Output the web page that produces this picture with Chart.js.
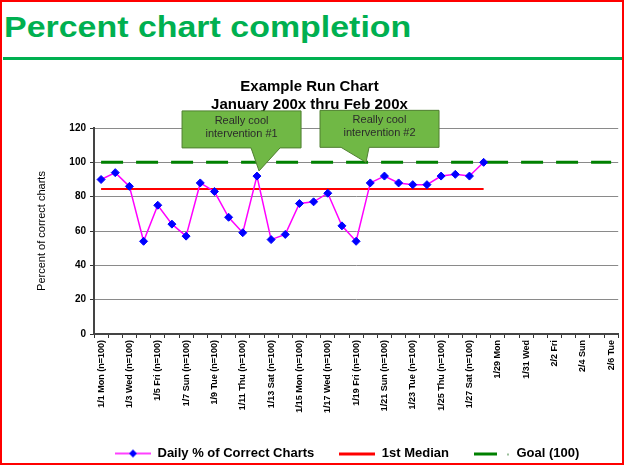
<!DOCTYPE html>
<html>
<head>
<meta charset="utf-8">
<script src="https://cdn.jsdelivr.net/npm/chart.js@4.4.1/dist/chart.umd.min.js"></script>
<style>
    html, body { margin: 0; padding: 0; background: #fff; }
    #slide { position: relative; width: 624px; height: 465px; overflow: hidden; font-family: Arial, "Liberation Sans", sans-serif; }
    #frame { position: absolute; left: 0; top: 0; width: 624px; height: 465px; box-sizing: border-box; border: 2px solid #ff0000; pointer-events: none; z-index: 5; }
    #heading { position: absolute; left: 4px; top: 13px; margin: 0; font-size: 29px; line-height: 29px; font-weight: bold; color: #00b050; white-space: nowrap; transform: scaleX(1.17); transform-origin: 0 0; }
    #rule { position: absolute; left: 3px; right: 0; top: 57px; height: 3px; background: #00b050; }
    #chartBox { position: absolute; left: 0; top: 62px; width: 624px; height: 408px; }
</style>
</head>
<body>
<div id="slide">
    <h1 id="heading">Percent chart completion</h1>
    <div id="rule"></div>
    <div id="chartBox"><canvas id="runChart" width="624" height="408"></canvas></div>
    <div id="frame"></div>
</div>
<script>
// Categories: one per day, 1/1 through 2/6
const days = [
    '1/1 Mon (n=100)', '1/2 Tue (n=100)', '1/3 Wed (n=100)', '1/4 Thu (n=100)', '1/5 Fri (n=100)',
    '1/6 Sat (n=100)', '1/7 Sun (n=100)', '1/8 Mon (n=100)', '1/9 Tue (n=100)', '1/10 Wed (n=100)',
    '1/11 Thu (n=100)', '1/12 Fri (n=100)', '1/13 Sat (n=100)', '1/14 Sun (n=100)', '1/15 Mon (n=100)',
    '1/16 Tue (n=100)', '1/17 Wed (n=100)', '1/18 Thu (n=100)', '1/19 Fri (n=100)', '1/20 Sat (n=100)',
    '1/21 Sun (n=100)', '1/22 Mon (n=100)', '1/23 Tue (n=100)', '1/24 Wed (n=100)', '1/25 Thu (n=100)',
    '1/26 Fri (n=100)', '1/27 Sat (n=100)', '1/28 Sun (n=100)',
    '1/29 Mon', '1/30 Tue', '1/31 Wed', '2/1 Thu', '2/2 Fri', '2/3 Sat', '2/4 Sun', '2/5 Mon', '2/6 Tue'
];

// Daily % of correct charts (1/1 .. 1/28)
const dailyPercent = [90, 94, 86, 54, 75, 64, 57, 88, 83, 68, 59, 92, 55, 58,
                      76, 77, 82, 63, 54, 88, 92, 88, 87, 87, 92, 93, 92, 100];

const medianValue = 84.5;   // 1st median, over the days with data
const goalValue = 100;

const yTicks = [0, 20, 40, 60, 80, 100, 120];

const chartTitle = ['Example Run Chart', 'January 200x thru Feb 200x'];
const seriesNames = ['Daily % of Correct Charts', '1st Median', 'Goal (100)'];

// Callouts: text plus the day index / value the pointer aims at
const calloutText = [['Really cool', 'intervention #1'], ['Really cool', 'intervention #2']];
const calloutAt = [[11.15, 95], [18.7, 100]];
// box shape relative to the pointer tip: left, right, top, bottom, pointer base left, right
const calloutShape = [[-77, 42, -60, -23, -8, 21], [-46, 73, -52, -15, -25, 3]];

// Little canvases used as legend keys (line with marker, like the spreadsheet legend)
function legendKey(kind) {
    const c = document.createElement('canvas');
    c.width = 36;
    c.height = 12;
    const g = c.getContext('2d');
    if (kind === 'daily') {
        g.strokeStyle = '#ff00ff';
        g.lineWidth = 1.5;
        g.beginPath(); g.moveTo(0, 6); g.lineTo(36, 6); g.stroke();
        g.fillStyle = '#0000ff';
        g.beginPath(); g.moveTo(18, 2); g.lineTo(22, 6); g.lineTo(18, 10); g.lineTo(14, 6); g.closePath(); g.fill();
    } else if (kind === 'median') {
        g.fillStyle = '#ff0000';
        g.fillRect(0, 5, 36, 3);
    } else {
        g.fillStyle = '#008000';
        g.fillRect(0, 5, 23, 3);
        g.fillStyle = '#9bbf9b';
        g.fillRect(33, 6, 2, 2);
    }
    return c;
}
const legendKeys = [legendKey('daily'), legendKey('median'), legendKey('goal')];

// Draw the green speech-bubble callouts on top of everything
const calloutPlugin = {
    id: 'callouts',
    afterDraw(chart) {
        const ctx = chart.ctx;
        const xs = chart.scales.x;
        const ys = chart.scales.y;
        calloutText.forEach((lines, i) => {
            const tx = xs.getPixelForValue(calloutAt[i][0]);
            const ty = ys.getPixelForValue(calloutAt[i][1]);
            const s = calloutShape[i];
            const l = tx + s[0], r = tx + s[1], t = ty + s[2], b = ty + s[3];
            ctx.save();
            ctx.beginPath();
            ctx.moveTo(l, t);
            ctx.lineTo(r, t);
            ctx.lineTo(r, b);
            ctx.lineTo(tx + s[5], b);
            ctx.lineTo(tx, ty);
            ctx.lineTo(tx + s[4], b);
            ctx.lineTo(l, b);
            ctx.closePath();
            ctx.fillStyle = '#70b845';
            ctx.fill();
            ctx.lineWidth = 1;
            ctx.strokeStyle = '#4f7f30';
            ctx.stroke();
            ctx.fillStyle = '#2b2b2b';
            ctx.font = '11px Arial, "Liberation Sans", sans-serif';
            ctx.textAlign = 'center';
            ctx.textBaseline = 'middle';
            const cx = (l + r) / 2;
            lines.forEach((txt, k) => ctx.fillText(txt, cx, t + 10 + k * 13));
            ctx.restore();
        });
    }
};

// Put the legend where the spreadsheet had it
const legendPlacer = {
    id: 'legendPlacer',
    afterLayout(chart) {
        chart.legend.left = 90;
    }
};

const ctx = document.getElementById('runChart').getContext('2d');
const runChart = new Chart(ctx, {
    type: 'line',
    data: {
        labels: days,
        datasets: [{
            label: seriesNames[0],
            data: dailyPercent,
            borderColor: '#ff00ff',
            borderWidth: 1.5,
            pointStyle: 'rectRot',
            pointRadius: 4,
            pointBackgroundColor: '#0000ff',
            pointBorderColor: '#0000ff',
            pointBorderWidth: 1,
            tension: 0
        }, {
            label: seriesNames[1],
            data: [{ x: days[0], y: medianValue }, { x: days[dailyPercent.length - 1], y: medianValue }],
            borderColor: '#ff0000',
            borderWidth: 2,
            pointRadius: 0
        }, {
            label: seriesNames[2],
            data: [{ x: days[0], y: goalValue }, { x: days[days.length - 1], y: goalValue }],
            borderColor: '#008000',
            borderWidth: 3,
            borderDash: [22, 13],
            pointRadius: 0
        }]
    },
    options: {
        responsive: false,
        animation: false,
        layout: { padding: { left: 0, right: 5, top: 0, bottom: 0 } },
        plugins: {
            title: {
                display: true,
                text: chartTitle,
                color: '#000',
                font: { family: 'Arial, "Liberation Sans", sans-serif', size: 15, weight: 'bold', lineHeight: 1.2 },
                padding: { top: 16, bottom: 14 }
            },
            legend: {
                position: 'bottom',
                align: 'start',
                labels: {
                    usePointStyle: true,
                    pointStyleWidth: 36,
                    padding: 25,
                    color: '#000',
                    font: { family: 'Arial, "Liberation Sans", sans-serif', size: 13, weight: 'bold' },
                    generateLabels(chart) {
                        const items = Chart.defaults.plugins.legend.labels.generateLabels(chart);
                        items.forEach((it, i) => { it.pointStyle = legendKeys[i]; });
                        return items;
                    }
                }
            },
            tooltip: { enabled: false }
        },
        scales: {
            x: {
                type: 'category',
                offset: true,
                grid: { display: true, offset: true, drawOnChartArea: false, drawTicks: true, tickLength: 4, tickColor: '#333' },
                border: { display: true, color: '#444', width: 2 },
                ticks: {
                    autoSkip: false,
                    maxRotation: 90,
                    minRotation: 90,
                    padding: 2,
                    color: '#000',
                    font: { family: 'Arial, "Liberation Sans", sans-serif', size: 9, weight: 'bold' },
                    callback: (v, i) => (i % 2 === 0 ? days[i] : '')
                },
                afterFit(scale) { scale.height = 88; }
            },
            y: {
                min: yTicks[0],
                max: yTicks[yTicks.length - 1],
                afterBuildTicks(scale) { scale.ticks = yTicks.map(v => ({ value: v })); },
                grid: { color: '#8a8a8a', lineWidth: 1, tickLength: 4, tickColor: '#333' },
                border: { display: true, color: '#444', width: 2 },
                ticks: {
                    padding: 4,
                    color: '#000',
                    font: { family: 'Arial, "Liberation Sans", sans-serif', size: 10, weight: 'bold' }
                },
                title: {
                    display: true,
                    text: 'Percent of correct charts',
                    color: '#000',
                    font: { family: 'Arial, "Liberation Sans", sans-serif', size: 11 },
                    padding: { top: 35, bottom: 0 }
                },
                afterFit(scale) { scale.width = 94; }
            }
        }
    },
    plugins: [calloutPlugin, legendPlacer]
});
</script>
</body>
</html>
